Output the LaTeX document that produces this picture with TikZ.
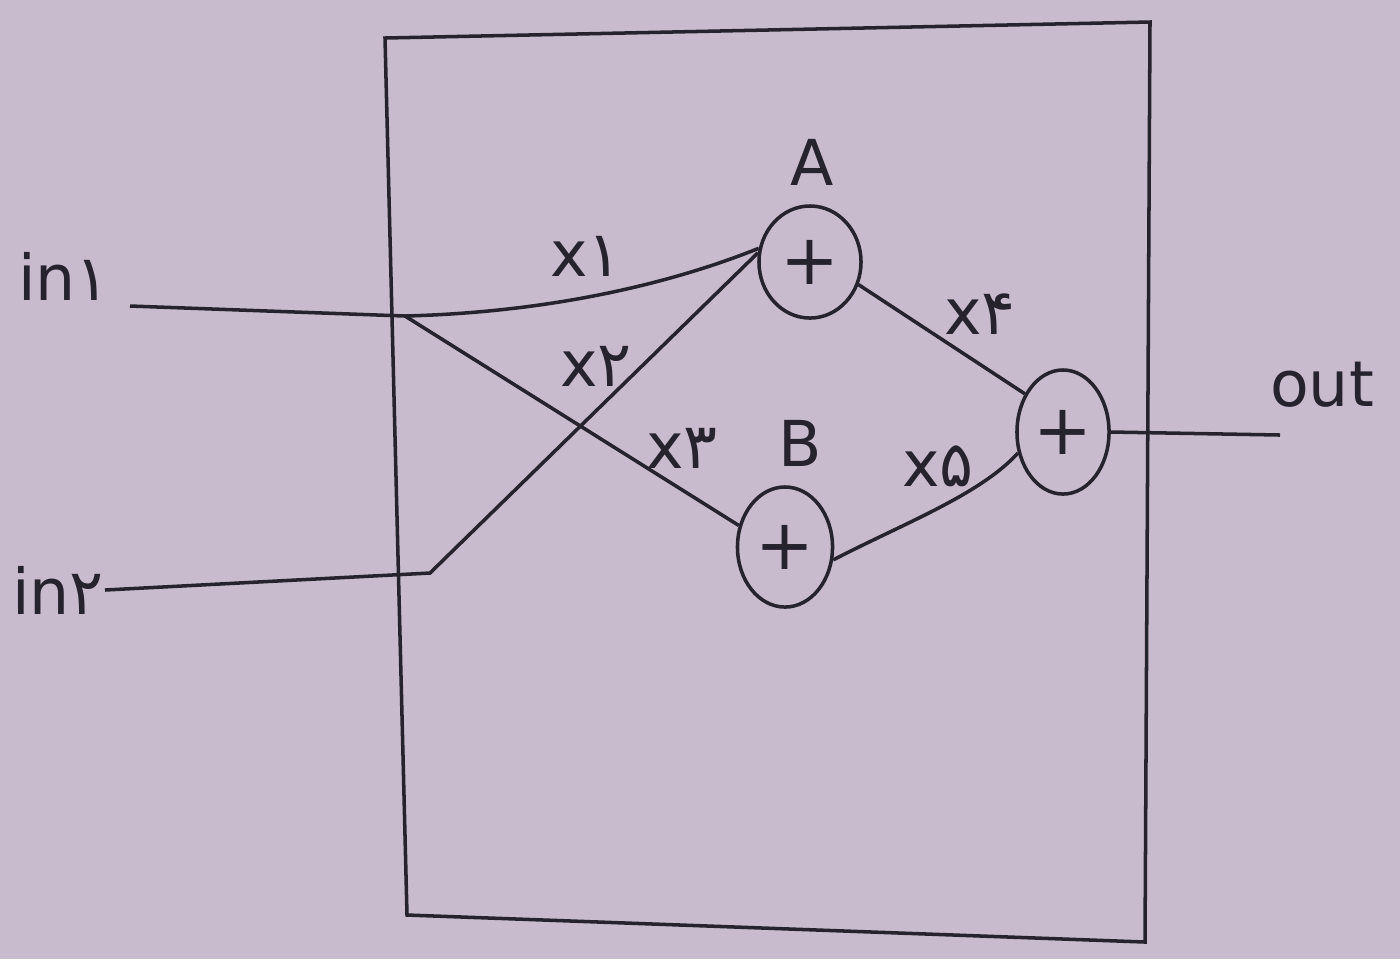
\documentclass[tikz,border=0pt]{standalone}
\usepackage{fontspec}
\setmainfont{DejaVu Sans}
\newfontfamily\fafont[Script=Arabic]{DejaVu Sans}
\usetikzlibrary{shapes.geometric}
\definecolor{paper}{RGB}{200,187,205}
\definecolor{ink}{RGB}{38,34,46}

\begin{document}
\begin{tikzpicture}[x=0.01cm, y=-0.01cm, line width=1pt, color=ink,
    sum/.style={ellipse, draw=ink, minimum width=1.02cm, minimum height=1.12cm,
                inner sep=0pt, font=\fontsize{20}{20}\selectfont},
    lab/.style={font=\fontsize{18}{22}\selectfont, inner sep=1pt}]
    % Fond
    \fill[paper] (0,0) rectangle (1400,959);

    % Cadre
    \draw (385,38) -- (1150,22) -- (1145,942) -- (407,915) -- cycle;

    % Additionneurs
    \node[sum] (A) at (810,262) {+};
    \node[sum, minimum width=0.95cm, minimum height=1.2cm] (B) at (785,547) {+};
    \node[sum, minimum width=0.92cm, minimum height=1.24cm] (S) at (1063,432) {+};
    \node[lab] (lA) at (812,162) {A};
    \node[lab] (lB) at (800,443) {B};

    % Entrees et sortie
    \node[lab] (in1) at (64,276) {in{\fafont ۱}};
    \node[lab] (in2) at (58,590) {in{\fafont ۲}};
    \node[lab] (out) at (1322,385) {out};
    \coordinate (i1) at (130,306);
    \coordinate (i2) at (105,590);
    \coordinate (j1) at (405,316);
    \coordinate (j2) at (430,573);
    \coordinate (o) at (1280,435);

    % Liaisons
    \draw (i1) -- (j1) .. controls (560,312) and (680,280) .. (A.165);
    \draw (i2) -- (j2) -- (A.170);
    \draw (j1) -- (B.155);
    \draw (A.-25) -- (S.135);
    \draw (B.-15) .. controls (900,525) and (980,495) .. (S.205);
    \draw (S.east) -- (o);

    % Poids
    \node[lab] (x1) at (586,256) {x{\fafont ۱}};
    \node[lab] (x2) at (596,366) {x{\fafont ۲}};
    \node[lab] (x3) at (682,448) {x{\fafont ۳}};
    \node[lab] (x4) at (980,314) {x{\fafont ۴}};
    \node[lab] (x5) at (938,466) {x{\fafont ۵}};
\end{tikzpicture}
\end{document}
